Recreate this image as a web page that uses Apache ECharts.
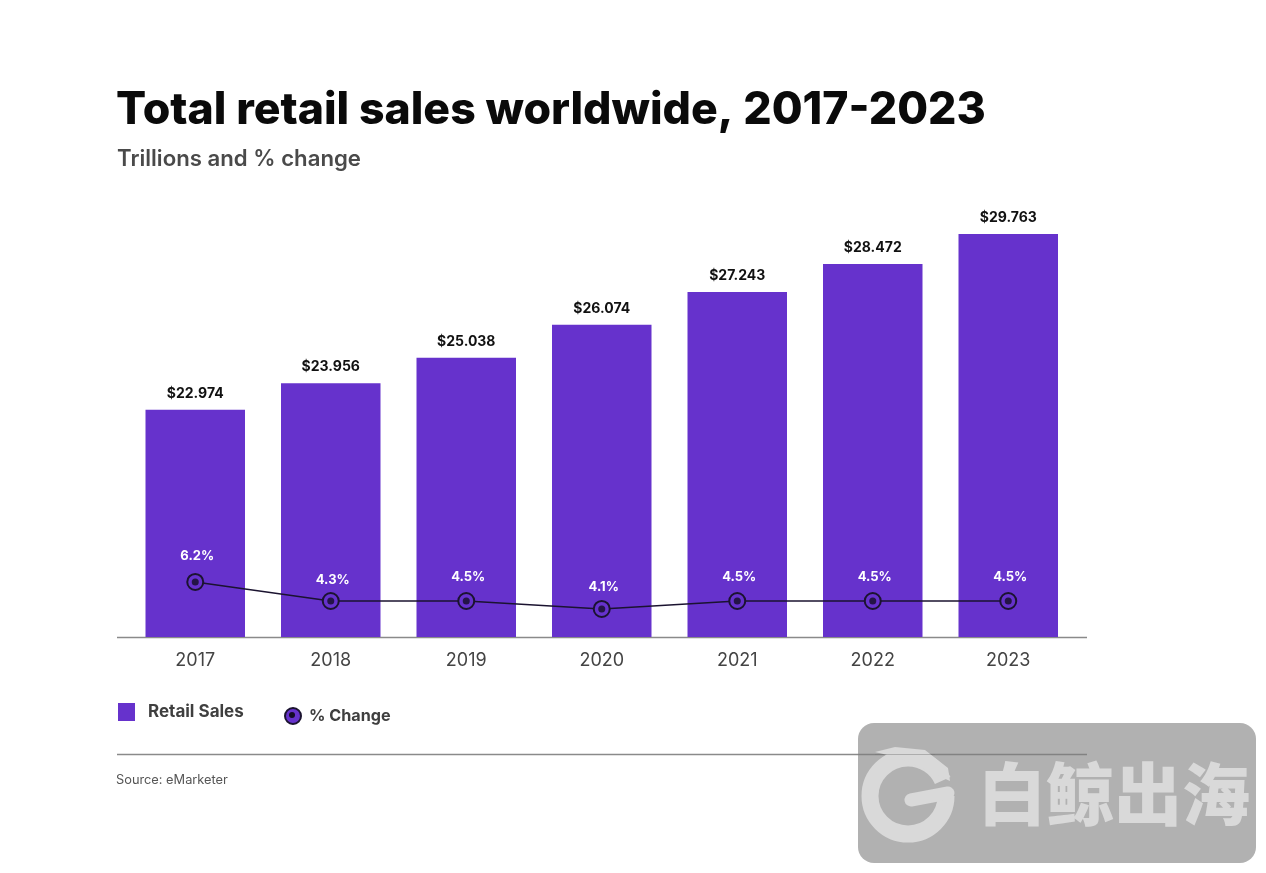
<!DOCTYPE html>
<html><head><meta charset="utf-8">
<style>html,body{margin:0;padding:0;background:#fff}#c{width:1266px;height:873px}</style>
<script src="https://cdn.jsdelivr.net/npm/echarts@6/dist/echarts.min.js"></script>
</head><body><div id="c"></div>
<script>
const years = ['2017','2018','2019','2020','2021','2022','2023'];
// bar heights as drawn in the picture, and the printed labels
const retailSales = [22.97, 24.0, 24.98, 26.25, 27.52, 28.60, 29.76];
const retailLabels = ['$22.974','$23.956','$25.038','$26.074','$27.243','$28.472','$29.763'];
// line levels as drawn in the picture, and the printed labels
const pctChange = [6.2, 4.72, 4.72, 4.1, 4.72, 4.72, 4.72];
const pctLabels = ['6.2%','4.3%','4.5%','4.1%','4.5%','4.5%','4.5%'];

const FONT = 'Inter';
const PURPLE = '#6632CC';
const DARK = '#1b1330';
const pctLabelNudge = [1, 6, 3, 5, 3, 3, 3];
const chart = echarts.init(document.getElementById('c'), null, {renderer:'canvas'});
chart.setOption({
  animation:false,
  backgroundColor:'#fff',
  title:[
    {text:'Total retail sales worldwide, 2017-2023',left:116,top:88,padding:0,textStyle:{fontFamily:FONT,fontWeight:800,fontSize:44.6,color:'#0a0a0a'}},
    {text:'Trillions and % change',left:117,top:148,padding:0,textStyle:{fontFamily:FONT,fontWeight:600,fontSize:22.2,color:'#4a4a4a'}}
  ],
  legend:[
    {data:[{name:'Retail Sales',icon:'rect'}],left:118,top:703,padding:0,itemWidth:17,itemHeight:18,selectedMode:false,
      textStyle:{fontFamily:FONT,fontWeight:700,fontSize:17,color:'#3f3f3f',padding:[4,0,0,8]}},
    {data:[{name:'% Change',icon:'circle'}],left:284,top:707,padding:0,itemWidth:16,itemHeight:16,selectedMode:false,
      textStyle:{fontFamily:FONT,fontWeight:700,fontSize:16.2,color:'#3f3f3f',padding:[0,0,0,3]}}
  ],
  grid:{left:127.5,right:190,top:200,bottom:236,containLabel:false},
  xAxis:{type:'category',data:years,axisLine:{show:false},axisTick:{show:false},
    axisLabel:{margin:15,fontFamily:FONT,fontSize:18,color:'#444'}},
  yAxis:[
    {type:'value',min:14.2,max:31.07,show:false},
    {type:'value',min:1.92,max:35.9,show:false}
  ],
  series:[
    {name:'Retail Sales',type:'bar',data:retailSales,barWidth:99.5,itemStyle:{color:PURPLE},
      label:{show:true,position:'top',distance:9,formatter:p=>retailLabels[p.dataIndex],
        fontFamily:FONT,fontWeight:700,fontSize:14,color:'#111'}},
    {name:'% Change',type:'line',yAxisIndex:1,symbol:'circle',symbolSize:16,z:5,
      data:pctChange.map((v,i)=>({value:v,label:{offset:[2,pctLabelNudge[i]]}})),
      lineStyle:{color:DARK,width:1.5},
      itemStyle:{color:PURPLE,borderColor:DARK,borderWidth:2},
      label:{show:true,position:'top',distance:11,formatter:p=>pctLabels[p.dataIndex],
        fontFamily:FONT,fontWeight:700,fontSize:13,color:'#fff'}},
    {name:'dots',type:'scatter',yAxisIndex:1,data:pctChange,symbol:'circle',symbolSize:7,z:6,
      itemStyle:{color:'#140c26'},silent:true}
  ],
  graphic:[
    {type:'line',z:1,shape:{x1:117,y1:637.5,x2:1087,y2:637.5},style:{stroke:'#8a8a8a',lineWidth:1.3}},
    {type:'line',z:1,shape:{x1:117,y1:754.5,x2:1087,y2:754.5},style:{stroke:'#8a8a8a',lineWidth:1.3}},
    {type:'circle',z:50,shape:{cx:292,cy:715,r:3},style:{fill:'#140c26'}},
    {type:'text',z:1,left:116,top:774,style:{text:'Source: eMarketer',font:'12.8px '+FONT,fill:'#555'}},
    {type:'rect',z:100,shape:{x:858,y:723,width:398,height:140,r:16},style:{fill:'rgba(125,125,125,0.6)'}},
    {type:'arc',z:101,shape:{cx:908,cy:796,r:38,startAngle:0.0,endAngle:Math.PI*2-0.42,clockwise:true},style:{stroke:'#d9d9d9',lineWidth:17,fill:'none'}},
    {type:'line',z:101,shape:{x1:911,y1:800,x2:948,y2:793},style:{stroke:'#d9d9d9',lineWidth:13,lineCap:'round'}},
    {type:'polygon',z:101,shape:{points:[[875,752],[895,747],[925,750],[948,768],[950,781],[930,772],[900,758]]},style:{fill:'#d9d9d9'}},
    {type:'line',z:102,shape:{x1:875,y1:754.5,x2:935,y2:754.5},style:{stroke:'rgba(120,120,120,0.45)',lineWidth:1.2}},
    {type:'text',z:101,left:978,top:760,style:{text:'白鲸出海',font:'900 68px "Noto Sans CJK SC"',fill:'#d9d9d9'}}
  ]
});
</script></body></html>
